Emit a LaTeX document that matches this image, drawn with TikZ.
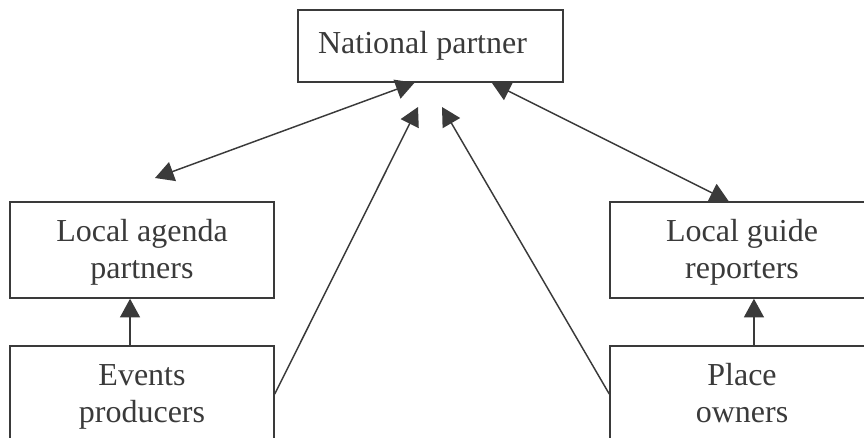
\documentclass[tikz,border=0pt]{standalone}
\usepackage{fontspec}
\setmainfont{Liberation Serif}
\usetikzlibrary{arrows.meta,calc}
\definecolor{inkgray}{RGB}{58,58,58}
\newcommand{\tallstrut}{\rule{0pt}{24pt}}

\begin{document}
\begin{tikzpicture}[x=0.75pt,y=0.75pt,yscale=-1,xscale=1,
    box/.style={draw=inkgray, line width=1.1pt, fill=white, text=inkgray,
        align=center, font=\fontsize{24}{27.75}\selectfont,
        minimum width=198pt, minimum height=72pt, inner sep=0pt},
    link/.style={draw=inkgray, line width=1.1pt, -{Triangle[length=14pt,width=15pt]}},
    twoway/.style={link, {Triangle[length=14pt,width=15pt]}-{Triangle[length=14pt,width=15pt]}}]

            \useasboundingbox (0,0) rectangle (864,438);
            \clip (0,0) rectangle (864,438);

            % Boxes
            \node[box, minimum width=198.75pt, minimum height=54pt] (nat) at (430.5,46) {National partner\hspace{12pt}};
            \node[box] (agenda) at (142,250) {\tallstrut Local agenda\\partners\strut};
            \node[box] (guide) at (742,250) {\tallstrut Local guide\\reporters\strut};
            \node[box] (events) at (142,394) {\tallstrut Events\\producers\strut};
            \node[box] (owners) at (742,394) {\tallstrut Place\\owners\strut};

            % Free ends
            \coordinate (agendaend) at (155,178);
            \coordinate (midleft) at (418,107);
            \coordinate (midright) at (442,107);

            % Arrows
            \draw[twoway] (agendaend) -- ($(nat.south west)!0.44!(nat.south east)$);
            \draw[twoway] ($(nat.south west)!0.73!(nat.south east)$) -- ($(guide.north west)!0.45!(guide.north east)$);
            \draw[link] (events.east) -- (midleft);
            \draw[link] (owners.west) -- (midright);
            \draw[link] ($(events.north west)!0.455!(events.north east)$) -- ($(agenda.south west)!0.455!(agenda.south east)$);
            \draw[link] ($(owners.north west)!0.545!(owners.north east)$) -- ($(guide.south west)!0.545!(guide.south east)$);

            \end{tikzpicture}
\end{document}
